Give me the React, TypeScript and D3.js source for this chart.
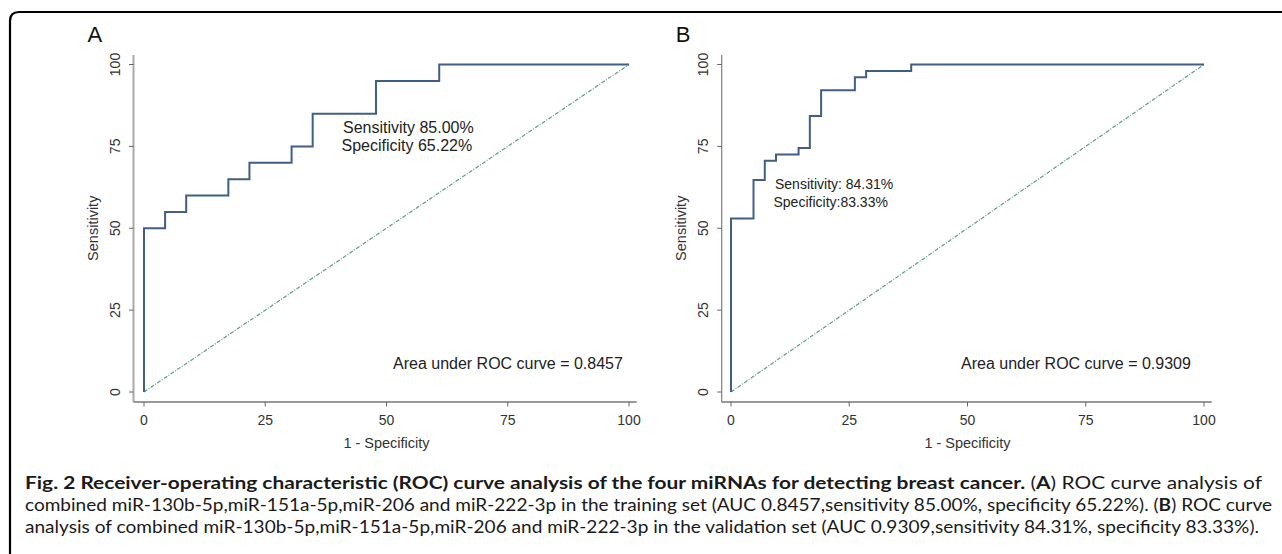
import React from "react";
import * as d3 from "d3";

// ROC operating points (1 - specificity %, sensitivity %)
const fprA = [0, 0, 4.35, 8.7, 17.39, 21.74, 30.43, 34.78, 47.83, 60.87, 100];
const tprA = [0, 50, 55, 60, 65, 70, 75, 85, 95, 100, 100];
const fprB = [0, 0, 4.76, 7.14, 9.52, 14.29, 16.67, 19.05, 26.19, 28.57, 38.1, 100];
const tprB = [0, 52.94, 64.71, 70.59, 72.55, 74.51, 84.31, 92.16, 96.08, 98.04, 100, 100];
const ticks = [0, 25, 50, 75, 100];
const panelLabels = ["A", "B"];
const annotA = ["Sensitivity 85.00%", "Specificity 65.22%"];
const annotB = ["Sensitivity: 84.31%", "Specificity:83.33%"];
const aucLabels = ["Area under ROC curve = 0.8457", "Area under ROC curve = 0.9309"];

const FONT = "'Liberation Sans', Arial, sans-serif";
const CURVE = "#3f5f86";
const DIAG = "#5c9c8c";

type PanelProps = {
  fpr: number[];
  tpr: number[];
  x0: number;
  x1: number;
  yAxisX: number;
  label: string;
  annot: string[];
  annotX: number;
  annotY: number;
  annotSize: number;
  annotGap: number;
  auc: string;
  aucX: number;
  yAxisColor: string;
  yAxisWidth: number;
};

function Panel(p: PanelProps) {
  const x = d3.scaleLinear().domain([0, 100]).range([p.x0, p.x1]);
  const y = d3.scaleLinear().domain([0, 100]).range([392, 64.5]);
  const pts = p.fpr.map((f, i) => [f, p.tpr[i]] as [number, number]);
  const line = d3
    .line<[number, number]>()
    .x((d) => x(d[0]))
    .y((d) => y(d[1]))
    .curve(d3.curveStepAfter);
  const diag = d3
    .line<[number, number]>()
    .x((d) => x(d[0]))
    .y((d) => y(d[1]));
  const axisY = 402;
  return (
    <g fontFamily={FONT}>
      <text x={p.yAxisX - 46} y={41.5} fontSize={22} fill="#111">
        {p.label}
      </text>
      {/* y axis */}
      <line x1={p.yAxisX} x2={p.yAxisX} y1={55} y2={axisY} stroke={p.yAxisColor} strokeWidth={p.yAxisWidth} />
      {ticks.map((t) => (
        <g key={"y" + t}>
          <line x1={p.yAxisX - 4.5} x2={p.yAxisX} y1={y(t)} y2={y(t)} stroke="#666" strokeWidth={1} />
          <text
            transform={`translate(${p.yAxisX - 13.5},${y(t)}) rotate(-90)`}
            textAnchor="middle"
            fontSize={14}
            fill="#333"
          >
            {t}
          </text>
        </g>
      ))}
      <text
        transform={`translate(${p.yAxisX - 35.5},${y(50)}) rotate(-90)`}
        textAnchor="middle"
        fontSize={14.5}
        fill="#333"
      >
        Sensitivity
      </text>
      {/* x axis */}
      <line x1={p.yAxisX} x2={x(100) + 7.7} y1={axisY} y2={axisY} stroke="#777" strokeWidth={1.3} />
      {ticks.map((t) => (
        <g key={"x" + t}>
          <line x1={x(t)} x2={x(t)} y1={axisY} y2={axisY + 4.5} stroke="#666" strokeWidth={1} />
          <text x={x(t)} y={425} textAnchor="middle" fontSize={14} fill="#333">
            {t}
          </text>
        </g>
      ))}
      <text x={x(50)} y={448} textAnchor="middle" fontSize={14.5} fill="#333">
        1 - Specificity
      </text>
      {/* reference diagonal */}
      <path
        d={diag([[0, 0], [100, 100]]) || ""}
        fill="none"
        stroke={DIAG}
        strokeWidth={1.2}
        strokeDasharray="4 1.5 1 1.5"
      />
      {/* ROC curve */}
      <path d={line(pts) || ""} fill="none" stroke={CURVE} strokeWidth={2} strokeLinejoin="miter" />
      {p.annot.map((s, i) => (
        <text key={s} x={p.annotX - (i === 1 ? 1.5 : 0)} y={p.annotY + i * p.annotGap} fontSize={p.annotSize} fill="#222">
          {s}
        </text>
      ))}
      <text x={p.aucX} y={369} fontSize={16} fill="#222">
        {p.auc}
      </text>
    </g>
  );
}

export default function App() {
  const capFont = "Lato, 'Open Sans', sans-serif";
  return (
    <svg
      width={1282}
      height={554}
      viewBox="0 0 1282 554"
      style={{ position: "absolute", left: 0, top: 0, background: "#fff" }}
    >
      <rect x={0} y={0} width={1282} height={554} fill="#fff" />
      <path d="M10,560 L10,21 Q10,12 19,12 L1290,12" fill="none" stroke="#000" strokeWidth={2.2} />
      <Panel
        fpr={fprA}
        tpr={tprA}
        x0={144}
        x1={629}
        yAxisX={133.5}
        label={panelLabels[0]}
        annot={annotA}
        annotX={343}
        annotY={133}
        annotSize={16}
        annotGap={18}
        auc={aucLabels[0]}
        aucX={393}
        yAxisColor="#aaa"
        yAxisWidth={2}
      />
      <Panel
        fpr={fprB}
        tpr={tprB}
        x0={731}
        x1={1204}
        yAxisX={721.7}
        label={panelLabels[1]}
        annot={annotB}
        annotX={775}
        annotY={189}
        annotSize={14}
        annotGap={17.5}
        auc={aucLabels[1]}
        aucX={961}
        yAxisColor="#888"
        yAxisWidth={1.3}
      />
      <g fontFamily={capFont} fontSize={16.5} fill="#1a1a1a">
        <text x={25} y={489} textLength={1237} lengthAdjust="spacingAndGlyphs">
          <tspan fontWeight="bold">
            Fig. 2 Receiver-operating characteristic (ROC) curve analysis of the four miRNAs for detecting breast cancer.
          </tspan>
          <tspan> (</tspan>
          <tspan fontWeight="bold">A</tspan>
          <tspan>) ROC curve analysis of</tspan>
        </text>
        <text x={25} y={511} textLength={1247} lengthAdjust="spacingAndGlyphs">
          <tspan>
            combined miR-130b-5p,miR-151a-5p,miR-206 and miR-222-3p in the training set (AUC 0.8457,sensitivity 85.00%, specificity 65.22%). (
          </tspan>
          <tspan fontWeight="bold">B</tspan>
          <tspan>) ROC curve</tspan>
        </text>
        <text x={25} y={533} textLength={1234} lengthAdjust="spacingAndGlyphs">
          analysis of combined miR-130b-5p,miR-151a-5p,miR-206 and miR-222-3p in the validation set (AUC 0.9309,sensitivity 84.31%, specificity 83.33%).
        </text>
      </g>
    </svg>
  );
}
